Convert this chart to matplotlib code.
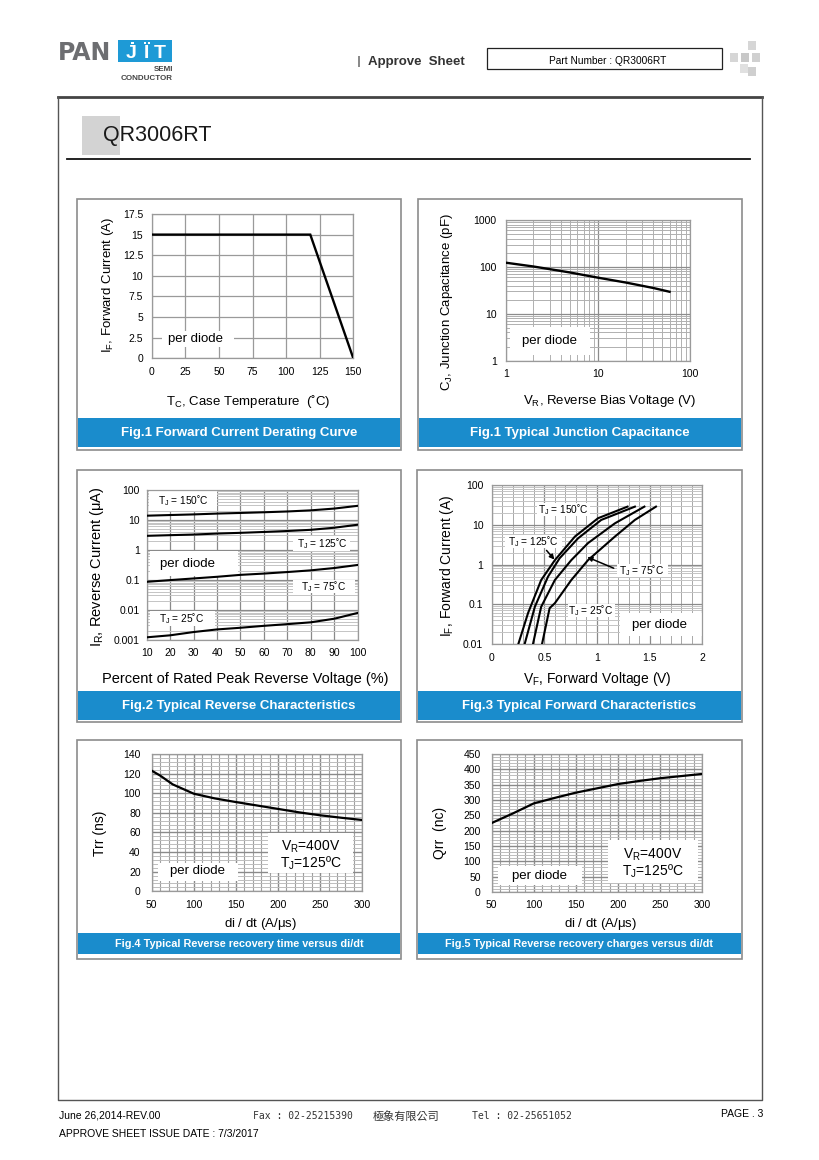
import numpy as np
import matplotlib
matplotlib.use('Agg')
import matplotlib.pyplot as plt
from matplotlib.patches import Rectangle
from matplotlib.ticker import MultipleLocator, LogLocator, NullFormatter

plt.rcParams['font.family'] = ['Liberation Sans', 'DejaVu Sans']
plt.rcParams['mathtext.default'] = 'regular'

# ---------------- data ----------------
# Fig.1 derating
tc_case = [0, 118, 150]
if_derate = [15, 15, 0]
f1_xticks = [0, 25, 50, 75, 100, 125, 150]
f1_yticks = [0, 2.5, 5, 7.5, 10, 12.5, 15, 17.5]
f1_ylabels = ['0', '2.5', '5', '7.5', '10', '12.5', '15', '17.5']

# Fig.1 junction capacitance
vr_cap = [1, 2, 5, 10, 20, 40, 60]
cj_cap = [123, 102, 76, 59, 46.5, 35.5, 29.5]

# Fig.2 reverse characteristics
pct_vr = [10, 20, 30, 40, 50, 60, 70, 80, 90, 100]
ir_150 = [13.6, 14.3, 15.0, 16.0, 16.8, 17.7, 18.8, 20.5, 23.5, 29]
ir_125 = [2.9, 3.05, 3.2, 3.45, 3.65, 3.9, 4.2, 4.6, 5.4, 6.8]
ir_75 = [0.085, 0.097, 0.11, 0.125, 0.145, 0.16, 0.18, 0.205, 0.245, 0.31]
ir_25 = [0.0012, 0.0014, 0.0018, 0.0022, 0.0025, 0.0029, 0.0033, 0.0038, 0.005, 0.0078]
f2_yticks = [0.001, 0.01, 0.1, 1, 10, 100]
f2_ylabels = ['0.001', '0.01', '0.1', '1', '10', '100']

# Fig.3 forward characteristics
vf_150 = [0.253, 0.345, 0.47, 0.60, 0.79, 1.01, 1.29]
if_150 = [0.01, 0.06, 0.41, 1.3, 5.1, 14.8, 29]
vf_125 = [0.313, 0.41, 0.535, 0.645, 0.82, 1.04, 1.36]
if_125 = [0.01, 0.087, 0.5, 1.45, 4.6, 13.4, 29]
vf_75 = [0.392, 0.47, 0.60, 0.756, 0.915, 1.17, 1.45]
if_75 = [0.01, 0.087, 0.41, 1.3, 3.5, 11, 29]
vf_25 = [0.478, 0.55, 0.60, 0.756, 0.915, 1.17, 1.36, 1.56]
if_25 = [0.01, 0.08, 0.107, 0.41, 1.3, 5.1, 13.4, 29]
f3_xticks = [0, 0.5, 1, 1.5, 2]
f3_xlabels = ['0', '0.5', '1', '1.5', '2']
f3_yticks = [0.01, 0.1, 1, 10, 100]
f3_ylabels = ['0.01', '0.1', '1', '10', '100']

# Fig.4 trr
didt_trr = [50, 60, 75, 100, 125, 150, 175, 200, 225, 250, 275, 300]
trr_ns = [123, 118, 109, 99.5, 94.7, 91, 87.5, 84, 80.5, 77.5, 75, 72.7]

# Fig.5 qrr
didt_qrr = [50, 75, 100, 125, 150, 175, 200, 225, 250, 275, 300]
qrr_nc = [225, 256, 289, 307, 324, 338, 352, 362, 371, 378, 385]

# ---------------- figure ----------------
W, H = 820, 1160
fig = plt.figure(figsize=(8.2, 11.6), dpi=100)
bg = fig.add_axes([0, 0, 1, 1], zorder=0)
bg.set_xlim(0, W)
bg.set_ylim(H, 0)
bg.axis('off')
P = bg.transData

BLUE = '#1a8ccc'
GRID = '#9a9a9a'
GRID_L = '#c4c4c4'


def make_ax(box):
    x0, y0, x1, y1 = box
    ax = fig.add_axes([x0 / W, 1 - y1 / H, (x1 - x0) / W, (y1 - y0) / H], zorder=1)
    ax.set_axisbelow(True)
    for s in ax.spines.values():
        s.set_color(GRID)
        s.set_linewidth(0.9)
    ax.tick_params(which='both', length=0, labelsize=7.5, colors='black')
    return ax


def labels(ax, box, xl, xpos, xsize, yl, ypos, ysize):
    x0, y0, x1, y1 = box
    ax.set_xlabel(xl, fontsize=xsize, va='center', ha='center')
    ax.xaxis.set_label_coords((xpos[0] - x0) / (x1 - x0), (y1 - xpos[1]) / (y1 - y0))
    ax.set_ylabel(yl, fontsize=ysize, va='center', ha='center')
    ax.yaxis.set_label_coords((ypos[0] - x0) / (x1 - x0), (y1 - ypos[1]) / (y1 - y0))


def wbox(ax, x0, y0, x1, y1):
    ax.add_patch(Rectangle((x0, y0), x1 - x0, y1 - y0, transform=P, fc='white',
                           ec='none', zorder=2.5, clip_on=False))


def ptext(ax, x, y, s, size, **kw):
    ax.text(x, y, s, transform=P, fontsize=size, ha='center', va='center', zorder=4, **kw)


def panel(x0, y0, x1, y1, by0, by1, title, tsize):
    bg.add_patch(Rectangle((x0, y0), x1 - x0, y1 - y0, fc='white', ec='#8c8c8c', lw=1.2))
    bg.add_patch(Rectangle((x0 + 0.8, by0), x1 - x0 - 1.6, by1 - by0, fc=BLUE, ec='none'))
    bg.text((x0 + x1) / 2, (by0 + by1) / 2 + 0.5, title, color='white', fontsize=tsize,
            fontweight='bold', ha='center', va='center')


# ---------------- header ----------------
bg.text(58, 53, 'PAN', fontsize=17, fontweight='bold', color='#6d6e71', ha='left', va='center',
        family='DejaVu Sans')
bg.add_patch(Rectangle((118, 40), 54, 22, fc='#1e9ad6', ec='none'))
for lx, ch in ((131, 'J'), (146, 'I'), (160, 'T')):
    bg.text(lx, 54, ch, fontsize=14, fontweight='bold', color='white', ha='center', va='center')
bg.add_patch(Rectangle((131.5, 41.8), 2.4, 2.4, fc='white', ec='none'))
bg.add_patch(Rectangle((144.0, 41.8), 2.4, 2.4, fc='white', ec='none'))
bg.add_patch(Rectangle((147.6, 41.8), 2.4, 2.4, fc='white', ec='none'))
bg.text(173, 69.5, 'SEMI', fontsize=5.8, fontweight='bold', color='#444444', ha='right', va='center')
bg.text(173, 78.5, 'CONDUCTOR', fontsize=5.8, fontweight='bold', color='#444444', ha='right', va='center')

bg.add_patch(Rectangle((358, 56), 2.5, 11, fc='#8a8a8a', ec='none'))
bg.text(368, 61.5, 'Approve  Sheet', fontsize=9.5, fontweight='bold', color='#333333',
        ha='left', va='center')
bg.add_patch(Rectangle((487, 47.5), 235, 21, fc='none', ec='#222222', lw=0.9))
bg.text(608, 61.5, 'Part Number : QR3006RT', fontsize=7.3, ha='center', va='center')
for (sx, sy, c) in [(748, 41, '#d6d6d6'), (730, 53, '#d6d6d6'), (741, 53, '#c8c8c8'),
                    (752, 53, '#d0d0d0'), (740, 64, '#e0e0e0'), (748, 67, '#cfcfcf')]:
    bg.add_patch(Rectangle((sx, sy), 8, 9, fc=c, ec='none'))

# page frame
bg.plot([58, 762], [97, 97], color='#444444', lw=2.0)
bg.plot([58, 58, 762, 762], [97, 1100, 1100, 97], color='#555555', lw=1.0)

# title
bg.add_patch(Rectangle((82, 116), 38, 39, fc='#d3d3d3', ec='none'))
bg.text(103, 136, 'QR3006RT', fontsize=15.5, color='#1a1a1a', ha='left', va='center')
bg.plot([67, 750], [159, 159], color='#111111', lw=1.3)

# footer
bg.text(59, 1115, 'June 26,2014-REV.00', fontsize=7.5, ha='left', va='center')
bg.text(253, 1116, 'Fax : 02-25215390', fontsize=7, ha='left', va='center', family='DejaVu Sans Mono',
        color='#333333')
bg.text(373, 1116, '極象有限公司', fontsize=8, ha='left', va='center',
        family=['Noto Sans CJK TC', 'DejaVu Sans'], color='#333333')
bg.text(472, 1116, 'Tel : 02-25651052', fontsize=7, ha='left', va='center', family='DejaVu Sans Mono',
        color='#333333')
bg.text(763, 1114, 'PAGE . 3', fontsize=7.5, ha='right', va='center')
bg.text(59, 1134, 'APPROVE SHEET ISSUE DATE : 7/3/2017', fontsize=7.5, ha='left', va='center')

# ---------------- panels ----------------
panel(77, 199, 401, 450, 418, 447, 'Fig.1 Forward Current Derating Curve', 9.5)
panel(418, 199, 742, 450, 418, 447, 'Fig.1 Typical Junction Capacitance', 9.5)
panel(77, 470, 401, 722, 691, 720, 'Fig.2 Typical Reverse Characteristics', 9.5)
panel(417, 470, 742, 722, 691, 720, 'Fig.3 Typical Forward Characteristics', 9.5)
panel(77, 740, 401, 959, 933, 954, 'Fig.4 Typical Reverse recovery time versus di/dt', 7.8)
panel(417, 740, 742, 959, 933, 954, 'Fig.5 Typical Reverse recovery charges versus di/dt', 7.8)

# ---------- Fig.1 derating ----------
b1 = (151.7, 214, 353.3, 358.3)
ax1 = make_ax(b1)
ax1.plot(tc_case, if_derate, color='black', lw=1.7, zorder=3, solid_joinstyle='miter')
ax1.set_xlim(0, 150)
ax1.set_ylim(0, 17.5)
ax1.set_xticks(f1_xticks)
ax1.set_yticks(f1_yticks)
ax1.set_yticklabels(f1_ylabels)
ax1.grid(True, color=GRID, lw=0.9)
ax1.tick_params(axis='x', pad=6.3)
ax1.tick_params(axis='y', pad=6.2)
labels(ax1, b1, 'T$_\\mathregular{C}$, Case Temperature  (\u02daC)', (248, 401.5), 9.5,
       r'I$_\mathregular{F}$, Forward Current (A)', (108, 285), 9.5)
wbox(ax1, 162, 331, 234, 347)
ptext(ax1, 196, 339, 'per diode', 9.5)

# ---------- Fig.1 capacitance ----------
b2 = (505.7, 220, 690, 360.7)
ax2 = make_ax(b2)
ax2.loglog(vr_cap, cj_cap, color='black', lw=1.7, zorder=3)
ax2.set_xlim(1, 100)
ax2.set_ylim(1, 1000)
ax2.set_xticks([1, 10, 100])
ax2.set_xticklabels(['1', '10', '100'])
ax2.set_yticks([1, 10, 100, 1000])
ax2.set_yticklabels(['1', '10', '100', '1000'])
for a in (ax2.xaxis, ax2.yaxis):
    a.set_minor_locator(LogLocator(base=10, subs=np.arange(2, 10), numticks=10))
    a.set_minor_formatter(NullFormatter())
ax2.grid(True, which='major', color='#8c8c8c', lw=0.9)
ax2.grid(True, which='minor', color='#b0b0b0', lw=0.7)
ax2.tick_params(axis='x', pad=6)
ax2.tick_params(axis='y', pad=6.5)
labels(ax2, b2, r'V$_\mathregular{R}$, Reverse Bias Voltage (V)', (610, 400.5), 9.5,
       r'C$_\mathregular{J}$, Junction Capacitance (pF)', (446.7, 302), 9.5)
wbox(ax2, 510, 327, 590, 355)
ptext(ax2, 550, 341, 'per diode', 9.5)

# ---------- Fig.2 reverse ----------
b3 = (146.7, 489.7, 357.7, 639.7)
ax3 = make_ax(b3)
for ser in (ir_150, ir_125, ir_75, ir_25):
    ax3.semilogy(pct_vr, ser, color='black', lw=1.5, zorder=3)
ax3.set_xlim(10, 100)
ax3.set_ylim(0.001, 100)
ax3.set_xticks(pct_vr)
ax3.set_yticks(f2_yticks)
ax3.set_yticklabels(f2_ylabels)
ax3.yaxis.set_minor_locator(LogLocator(base=10, subs=np.arange(2, 10), numticks=10))
ax3.yaxis.set_minor_formatter(NullFormatter())
ax3.grid(True, which='major', color='#8a8a8a', lw=0.9)
ax3.grid(True, which='minor', axis='y', color=GRID_L, lw=0.7)
ax3.tick_params(axis='x', pad=6)
ax3.tick_params(axis='y', pad=4.8)
labels(ax3, b3, 'Percent of Rated Peak Reverse Voltage (%)', (245, 678.5), 10.5,
       r'I$_\mathregular{R}$, Reverse Current ($\mu$A)', (96.7, 567), 10.5)
TJ = 'T$_\\mathregular{J}$ = '
wbox(ax3, 149, 491, 216.7, 510.7)
ptext(ax3, 183, 500.5, TJ + '150\u02daC', 7.3)
wbox(ax3, 293, 536, 350, 551)
ptext(ax3, 322, 543.5, TJ + '125\u02daC', 7.3)
wbox(ax3, 150, 551, 238, 576)
ptext(ax3, 188, 564, 'per diode', 9.5)
wbox(ax3, 293, 579.7, 355, 593)
ptext(ax3, 324, 586.5, TJ + '75\u02daC', 7.3)
wbox(ax3, 150, 611, 215, 626)
ptext(ax3, 182, 619, TJ + '25\u02daC', 7.3)

# ---------- Fig.3 forward ----------
b4 = (491.7, 485.3, 702.3, 644)
ax4 = make_ax(b4)
for vv, ii in ((vf_150, if_150), (vf_125, if_125), (vf_75, if_75), (vf_25, if_25)):
    ax4.semilogy(vv, ii, color='black', lw=1.5, zorder=3)
ax4.set_xlim(0, 2)
ax4.set_ylim(0.01, 100)
ax4.set_xticks(f3_xticks)
ax4.set_xticklabels(f3_xlabels)
ax4.set_yticks(f3_yticks)
ax4.set_yticklabels(f3_ylabels)
ax4.xaxis.set_minor_locator(MultipleLocator(0.1))
ax4.yaxis.set_minor_locator(LogLocator(base=10, subs=np.arange(2, 10), numticks=10))
ax4.yaxis.set_minor_formatter(NullFormatter())
ax4.grid(True, which='major', color='#8a8a8a', lw=0.9)
ax4.grid(True, which='minor', axis='x', color='#a8a8a8', lw=0.7)
ax4.grid(True, which='minor', axis='y', color=GRID_L, lw=0.7)
ax4.tick_params(axis='x', pad=6.7)
ax4.tick_params(axis='y', pad=6)
labels(ax4, b4, r'V$_\mathregular{F}$, Forward Voltage (V)', (597, 679.5), 10,
       r'I$_\mathregular{F}$, Forward Current (A)', (446.7, 565.5), 10)
wbox(ax4, 536.7, 503, 590, 516.3)
ptext(ax4, 563, 510, TJ + '150\u02daC', 7.3)
wbox(ax4, 505, 534.7, 561.7, 548)
ptext(ax4, 533, 541.3, TJ + '125\u02daC', 7.3)
wbox(ax4, 616.7, 564, 668.3, 577)
ptext(ax4, 642, 570.5, TJ + '75\u02daC', 7.3)
wbox(ax4, 568.3, 604.3, 615, 616.7)
ptext(ax4, 591, 610.5, TJ + '25\u02daC', 7.3)
wbox(ax4, 620, 613, 701.7, 636.3)
ptext(ax4, 660, 625, 'per diode', 9.5)
ax4.annotate('', xy=(556.3, 561.7), xycoords=P, xytext=(544.7, 548.3), textcoords=P,
             arrowprops=dict(arrowstyle='-|>', color='black', lw=1.1, mutation_scale=7), zorder=5)
ax4.annotate('', xy=(584.7, 556), xycoords=P, xytext=(616.3, 569.3), textcoords=P,
             arrowprops=dict(arrowstyle='-|>', color='black', lw=1.1, mutation_scale=7), zorder=5)

# ---------- Fig.4 trr ----------
b5 = (151.7, 754, 362.3, 891.3)
ax5 = make_ax(b5)
ax5.plot(didt_trr, trr_ns, color='black', lw=1.6, zorder=3)
ax5.set_xlim(50, 300)
ax5.set_ylim(0, 140)
ax5.set_xticks([50, 100, 150, 200, 250, 300])
ax5.set_yticks([0, 20, 40, 60, 80, 100, 120, 140])
ax5.xaxis.set_minor_locator(MultipleLocator(10))
ax5.yaxis.set_minor_locator(MultipleLocator(4))
ax5.grid(True, which='major', color='#8a8a8a', lw=1.0)
ax5.grid(True, which='minor', axis='x', color='#a0a0a0', lw=0.8)
ax5.grid(True, which='minor', axis='y', color='#bdbdbd', lw=0.7)
ax5.tick_params(axis='x', pad=6)
ax5.tick_params(axis='y', pad=7.9)
labels(ax5, b5, r'di / dt (A/$\mu$s)', (260, 923.5), 9.5, 'Trr (ns)', (100, 833), 10)
wbox(ax5, 158.3, 863, 238.3, 881.3)
ptext(ax5, 198, 871, 'per diode', 9.5)
wbox(ax5, 268.3, 833, 353.3, 873)
ptext(ax5, 311, 847, r'V$_\mathregular{R}$=400V', 10)
ptext(ax5, 311, 863, 'T$_\\mathregular{J}$=125\u00baC', 10)

# ---------- Fig.5 qrr ----------
b6 = (491.7, 754, 702.3, 892)
ax6 = make_ax(b6)
ax6.plot(didt_qrr, qrr_nc, color='black', lw=1.6, zorder=3)
ax6.set_xlim(50, 300)
ax6.set_ylim(0, 450)
ax6.set_xticks([50, 100, 150, 200, 250, 300])
ax6.set_yticks([0, 50, 100, 150, 200, 250, 300, 350, 400, 450])
ax6.xaxis.set_minor_locator(MultipleLocator(10))
ax6.yaxis.set_minor_locator(MultipleLocator(10))
ax6.grid(True, which='major', color='#8a8a8a', lw=1.0)
ax6.grid(True, which='minor', axis='x', color='#a0a0a0', lw=0.8)
ax6.grid(True, which='minor', axis='y', color='#bdbdbd', lw=0.7)
ax6.tick_params(axis='x', pad=6)
ax6.tick_params(axis='y', pad=7.9)
labels(ax6, b6, r'di / dt (A/$\mu$s)', (600, 923.5), 9.5, 'Qrr  (nc)', (440, 833), 10)
wbox(ax6, 498.3, 866.3, 581.7, 884.7)
ptext(ax6, 540, 875.5, 'per diode', 9.5)
wbox(ax6, 608.3, 839.7, 698.3, 883)
ptext(ax6, 653, 855, r'V$_\mathregular{R}$=400V', 10)
ptext(ax6, 653, 871, 'T$_\\mathregular{J}$=125\u00baC', 10)

fig.savefig('out.png', dpi=100)
